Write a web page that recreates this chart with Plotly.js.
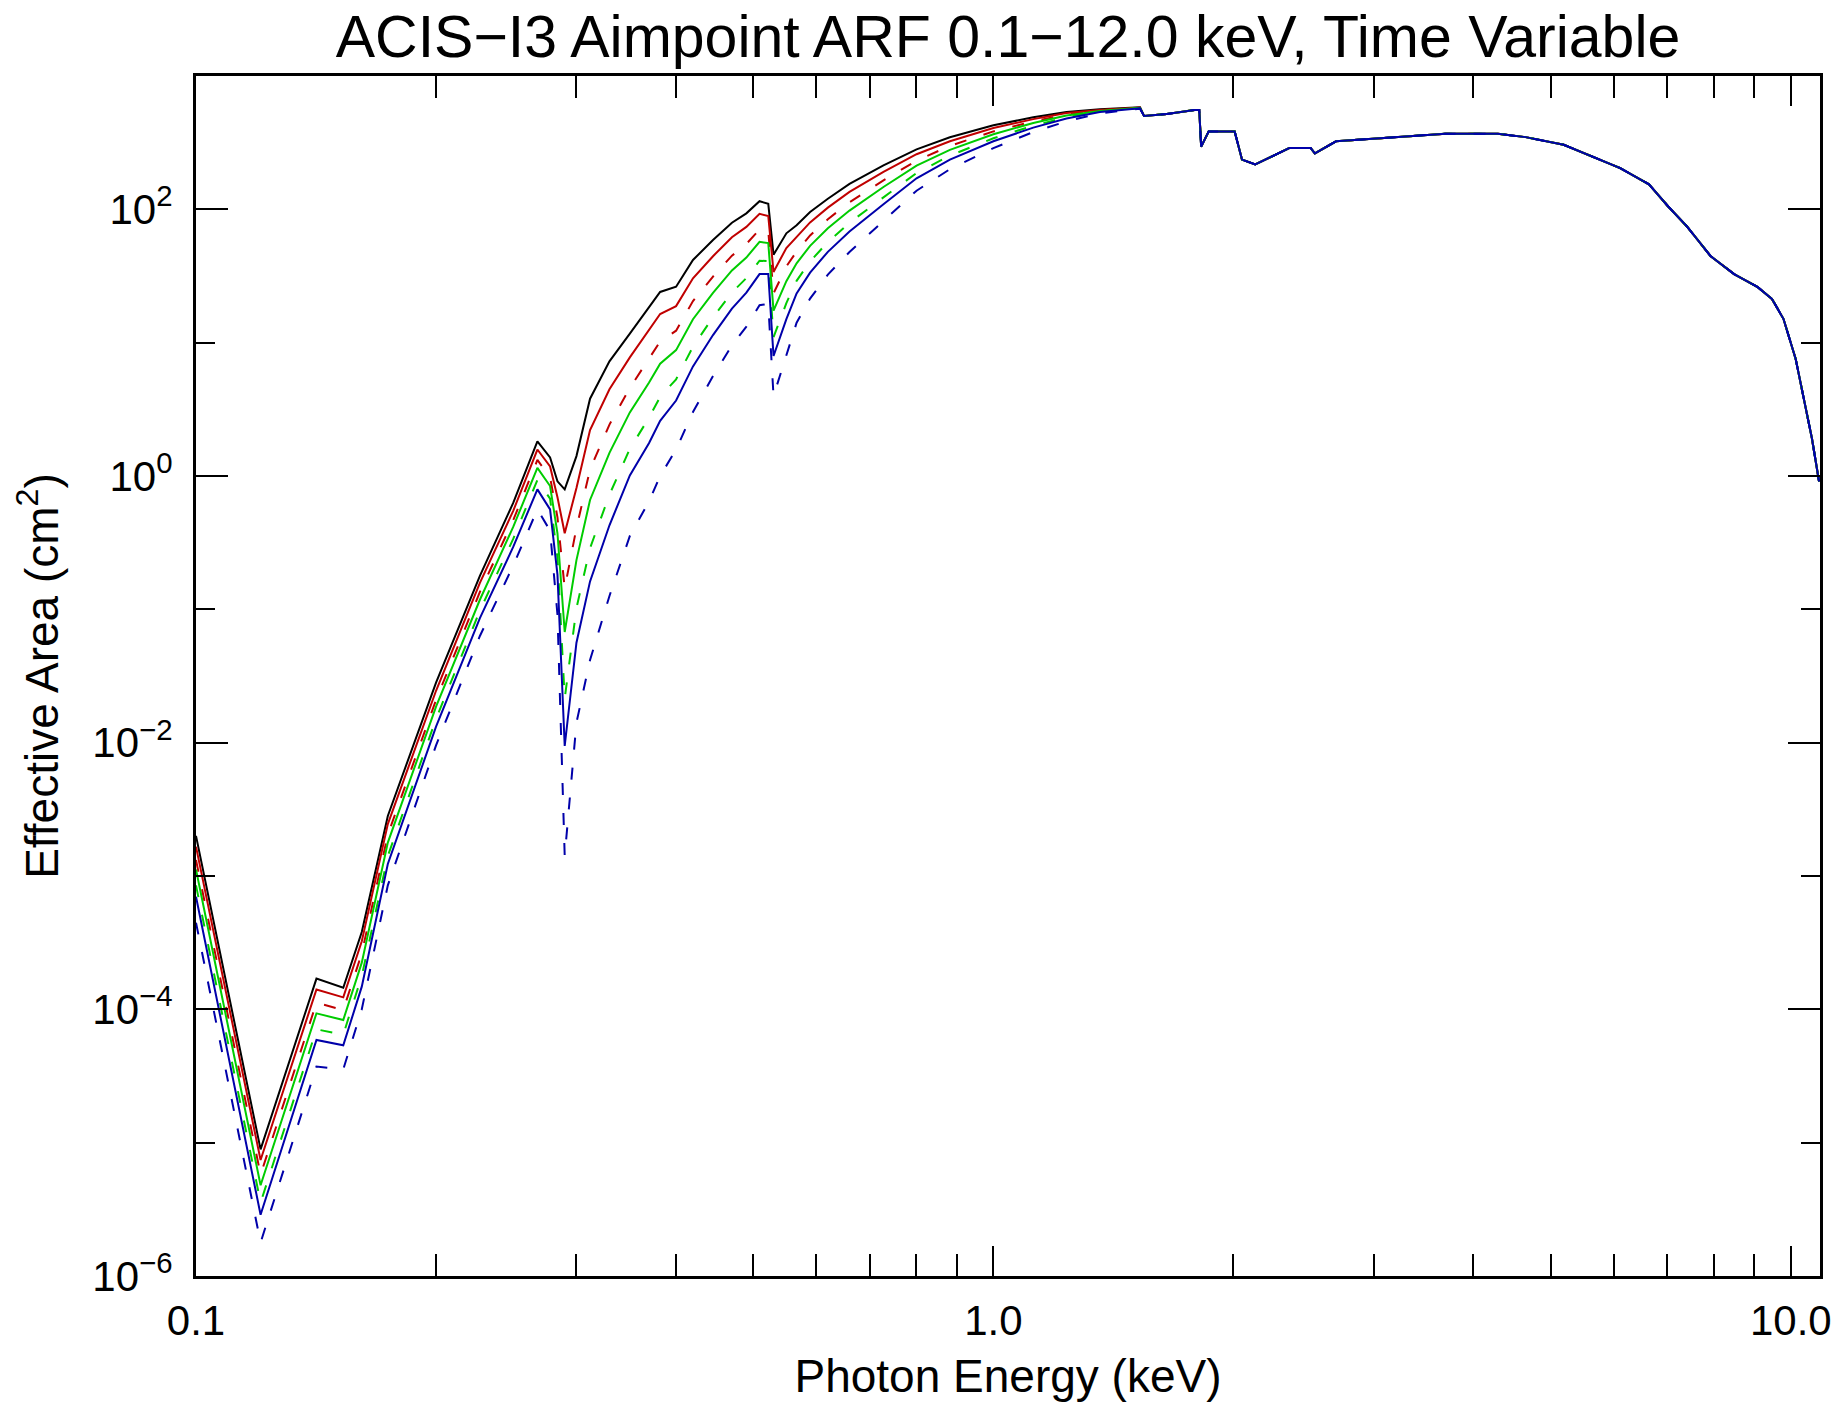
<!DOCTYPE html>
<html>
<head>
<meta charset="utf-8">
<script src="https://cdn.plot.ly/plotly-3.0.1.min.js"></script>
<style>html,body{margin:0;padding:0;background:#fff;}#chart{width:1839px;height:1402px;}</style>
</head>
<body>
<div id="chart"></div>
<script>
// Photon energy grid (keV) for the time-variable low-energy part
const energyLow = [0.100, 0.1205, 0.1416, 0.153, 0.1614, 0.174, 0.200, 0.227, 0.250, 0.268,
  0.278, 0.284, 0.290, 0.300, 0.312, 0.330, 0.350, 0.370, 0.382, 0.400,
  0.420, 0.445, 0.470, 0.490, 0.509, 0.522, 0.530, 0.550, 0.5665, 0.589,
  0.620, 0.660, 0.728, 0.801, 0.882, 1.000, 1.122, 1.235, 1.360, 1.527];

// Effective area (cm^2) for each epoch
const areaBlack = [2.00e-3, 8.91e-6, 1.70e-4, 1.45e-4, 3.80e-4, 2.82e-3, 2.82e-2, 0.178, 0.631, 1.82,
  1.38, 0.912, 0.794, 1.41, 3.80, 7.24, 11.7, 18.6, 24.0, 26.3,
  41.7, 58.9, 79.4, 93.3, 115, 110, 45.7, 66.1, 75.9, 95.5,
  120, 155, 214, 282, 347, 427, 490, 537, 562, 582];
const areaRed = [1.66e-3, 7.41e-6, 1.41e-4, 1.23e-4, 3.24e-4, 2.45e-3, 2.45e-2, 0.158, 0.550, 1.58,
  1.18, 0.692, 0.372, 0.813, 2.21, 4.47, 7.76, 12.4, 16.4, 18.8,
  30.4, 44.5, 61.7, 73.8, 92.5, 89.1, 33.9, 51.3, 61.9, 79.8,
  103, 135, 191, 259, 324, 407, 475, 527, 557, 581];
const areaRedDash = [1.32e-3, 5.75e-6, 1.12e-4, 9.89e-5, 2.63e-4, 2.04e-3, 2.09e-2, 0.135, 0.468, 1.32,
  0.98, 0.490, 0.144, 0.407, 1.12, 2.43, 4.57, 7.52, 10.2, 12.3,
  20.5, 31.3, 44.9, 55.0, 70.6, 68.7, 23.4, 37.3, 48.2, 63.7,
  84.3, 113, 165, 232, 299, 384, 457, 514, 552, 578];
const areaGreen = [1.12e-3, 4.79e-6, 9.33e-5, 8.32e-5, 2.24e-4, 1.78e-3, 1.86e-2, 0.118, 0.417, 1.15,
  0.841, 0.372, 6.76e-2, 0.234, 0.661, 1.49, 3.00, 5.02, 6.95, 8.79,
  15.0, 23.6, 34.8, 43.5, 57.0, 55.8, 17.4, 28.9, 39.4, 53.2,
  72.1, 97.9, 147, 213, 279, 366, 444, 505, 547, 577];
const areaGreenDash = [8.51e-4, 3.55e-6, 7.08e-5, 6.46e-5, 1.78e-4, 1.41e-3, 1.51e-2, 9.77e-2, 0.339, 0.933,
  0.676, 0.245, 2.14e-2, 0.102, 0.288, 0.724, 1.60, 2.74, 3.92, 5.31,
  9.33, 15.5, 23.8, 30.5, 41.2, 40.9, 11.0, 19.8, 29.1, 40.6,
  56.9, 79.3, 123, 187, 253, 341, 424, 490, 541, 574];
const areaBlue = [7.00e-4, 2.88e-6, 5.89e-5, 5.37e-5, 1.48e-4, 1.23e-3, 1.32e-2, 8.60e-2, 0.295, 0.794,
  0.562, 0.182, 9.44e-3, 5.62e-2, 0.162, 0.427, 1.01, 1.77, 2.59, 3.68,
  6.64, 11.4, 18.0, 23.7, 32.7, 32.7, 7.94, 15.0, 23.4, 33.5,
  48.0, 68.1, 109, 171, 236, 324, 410, 480, 536, 573];
const areaBlueDash = [4.47e-4, 1.78e-6, 3.72e-5, 3.55e-5, 1.00e-4, 8.51e-4, 9.55e-3, 6.31e-2, 0.214, 0.562,
  0.389, 9.12e-2, 1.41e-3, 1.41e-2, 4.17e-2, 0.126, 0.355, 0.646, 1.00, 1.58,
  3.02, 5.62, 9.55, 13.2, 19.1, 19.5, 3.98, 7.94, 14.1, 21.4,
  32.4, 47.9, 81.3, 138, 200, 288, 380, 457, 525, 569];

// Common high-energy part (all epochs coincide)
const tailEnergy = [1.545, 1.65, 1.788, 1.812, 1.822, 1.862, 2.007, 2.050, 2.130, 2.35,
  2.50, 2.53, 2.69, 2.965, 3.26, 3.69, 4.29, 4.65, 5.19, 5.63,
  6.11, 6.64, 7.01, 7.40, 7.93, 8.49, 9.09, 9.47, 9.79, 10.14,
  10.41, 10.63, 10.85];
const tailArea = [501, 519, 557, 556, 295, 384, 384, 236, 217, 288,
  288, 263, 324, 337, 352, 369, 369, 348, 305, 251,
  204, 154, 106, 75.0, 44.7, 32.7, 26.1, 21.3, 15.1, 7.59,
  3.63, 1.91, 0.912];

// Tick labels
const xTickVals = [0.1, 1, 10];
const xTickText = ['0.1', '1.0', '10.0'];
const xMinorVals = [0.2, 0.3, 0.4, 0.5, 0.6, 0.7, 0.8, 0.9, 2, 3, 4, 5, 6, 7, 8, 9];
const yTickVals = [1e-6, 1e-4, 1e-2, 1, 100];
const yTickText = ['10<sup>−6</sup>', '10<sup>−4</sup>', '10<sup>−2</sup>', '10<sup>0</sup>', '10<sup>2</sup>'];
const yMinorVals = [1e-5, 1e-3, 1e-1, 10];

const dashed = '12px,18px';
const seriesList = [
  {y: areaBlack, color: '#000000', dash: 'solid'},
  {y: areaRed, color: '#c00000', dash: 'solid'},
  {y: areaRedDash, color: '#c00000', dash: dashed},
  {y: areaGreen, color: '#00cc00', dash: 'solid'},
  {y: areaGreenDash, color: '#00cc00', dash: dashed},
  {y: areaBlue, color: '#0000aa', dash: 'solid'},
  {y: areaBlueDash, color: '#0000aa', dash: dashed}
];

const traces = seriesList.map(s => ({
  type: 'scatter',
  mode: 'lines',
  x: energyLow.concat(tailEnergy),
  y: s.y.concat(tailArea),
  line: {color: s.color, width: 2, dash: s.dash},
  hoverinfo: 'skip',
  showlegend: false
}));

const fontFam = '"Liberation Sans", Arial, sans-serif';

const layout = {
  width: 1839,
  height: 1402,
  paper_bgcolor: '#ffffff',
  plot_bgcolor: '#ffffff',
  margin: {l: 196, r: 19, t: 76, b: 126, pad: 0},
  showlegend: false,
  font: {family: fontFam, color: '#000000'},
  title: {
    text: 'ACIS−I3 Aimpoint ARF 0.1−12.0 keV, Time Variable',
    font: {family: fontFam, size: 59, color: '#000000'},
    x: 0.5, xref: 'paper', xanchor: 'center',
    y: 1 - 36 / 1402, yref: 'container', yanchor: 'middle'
  },
  xaxis: {
    type: 'log',
    range: [-1, Math.log10(10.88)],
    showline: true, linecolor: '#000000', linewidth: 3, mirror: 'ticks',
    ticks: 'inside', ticklen: 30, tickwidth: 2, tickcolor: '#000000',
    tickmode: 'array', tickvals: xTickVals, ticktext: xTickText,
    tickfont: {family: fontFam, size: 42, color: '#000000'},
    ticklabelstandoff: 6,
    showgrid: false, zeroline: false,
    minor: {tickmode: 'array', tickvals: xMinorVals, ticks: 'inside', ticklen: 22, tickwidth: 2, tickcolor: '#000000', showgrid: false},
    title: {text: 'Photon Energy (keV)', font: {family: fontFam, size: 46, color: '#000000'}, standoff: 22}
  },
  yaxis: {
    type: 'log',
    range: [-6, 3],
    showline: true, linecolor: '#000000', linewidth: 3, mirror: 'ticks',
    ticks: 'inside', ticklen: 32, tickwidth: 2, tickcolor: '#000000',
    tickmode: 'array', tickvals: yTickVals, ticktext: yTickText,
    tickfont: {family: fontFam, size: 42, color: '#000000'},
    ticklabelstandoff: 12,
    showgrid: false, zeroline: false,
    minor: {tickmode: 'array', tickvals: yMinorVals, ticks: 'inside', ticklen: 19, tickwidth: 2, tickcolor: '#000000', showgrid: false},
    title: {text: 'Effective Area (cm<sup>2</sup>)', font: {family: fontFam, size: 46, color: '#000000'}, standoff: 20}
  }
};

Plotly.newPlot('chart', traces, layout, {staticPlot: true, displayModeBar: false});
</script>
</body>
</html>
